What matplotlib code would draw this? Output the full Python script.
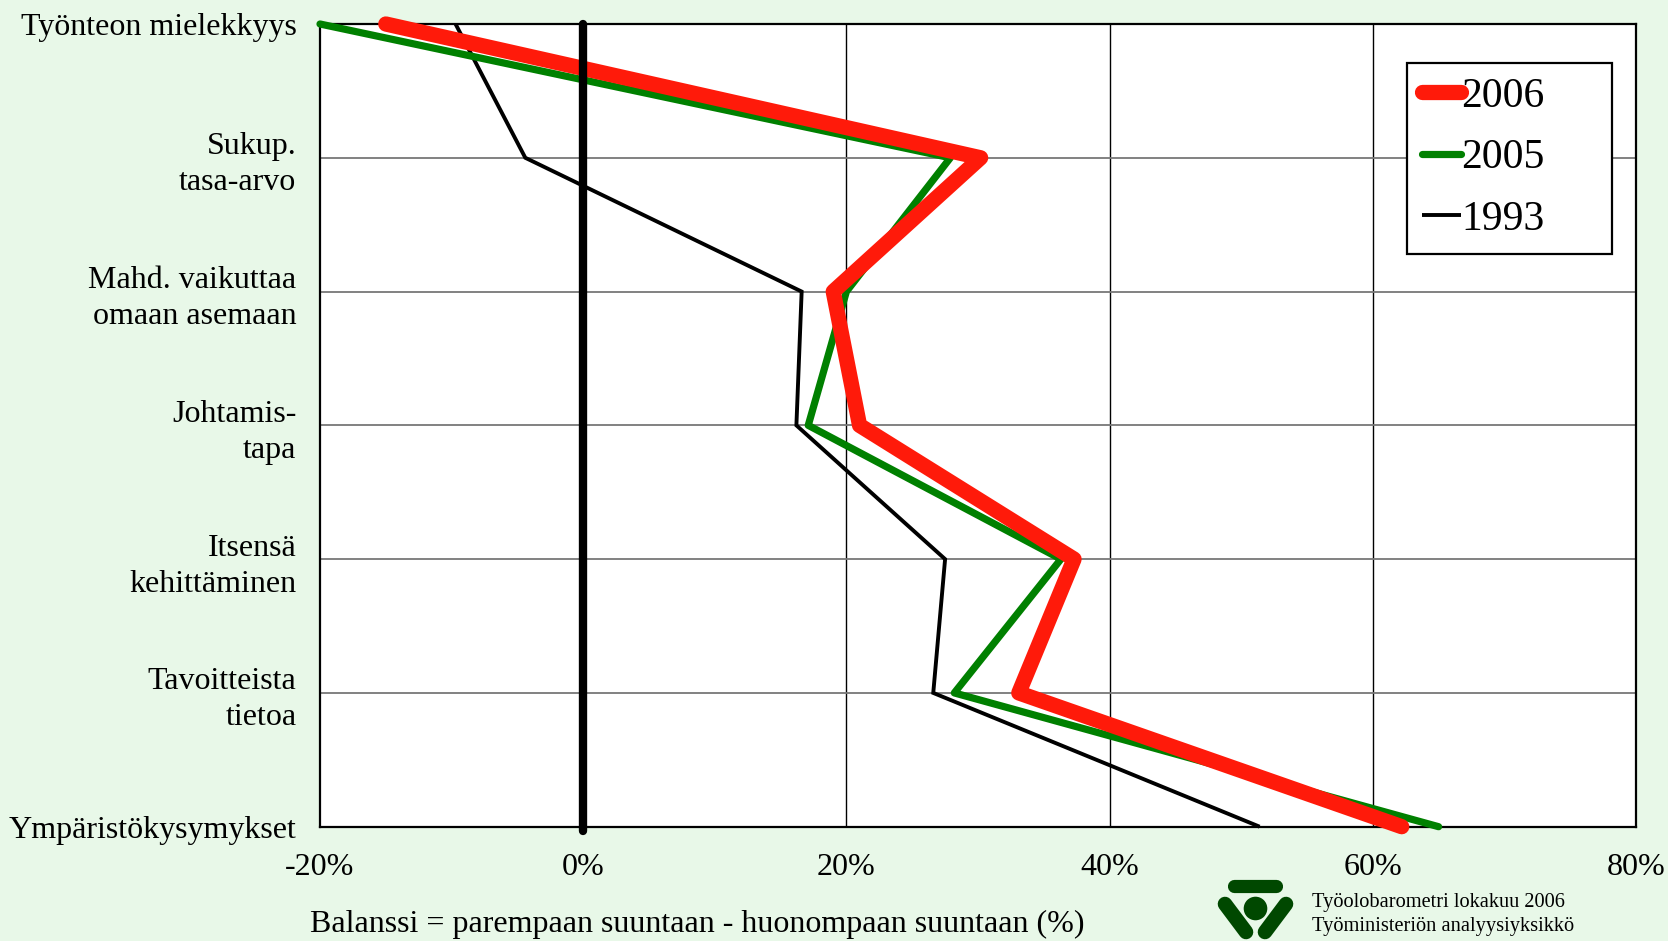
import matplotlib
matplotlib.use("Agg")
import matplotlib.pyplot as plt
from matplotlib.lines import Line2D

plt.rcParams['font.family'] = ['Liberation Serif', 'DejaVu Serif']

categories = ["Työnteon mielekkyys", "Sukup.\ntasa-arvo", "Mahd. vaikuttaa\nomaan asemaan",
              "Johtamis-\ntapa", "Itsensä\nkehittäminen", "Tavoitteista\ntietoa",
              "Ympäristökysymykset"]
values_2006 = [-15.0, 30.2, 19.0, 21.0, 37.3, 33.1, 62.2]
values_2005 = [-20.0, 27.9, 20.0, 17.1, 36.3, 28.2, 65.0]
values_1993 = [-9.7, -4.4, 16.6, 16.2, 27.5, 26.6, 51.4]
xticks = [-20, 0, 20, 40, 60, 80]
xtick_labels = ["-20%", "0%", "20%", "40%", "60%", "80%"]

bg = '#e8f8e8'
fig = plt.figure(figsize=(16.68, 9.41), dpi=100, facecolor=bg)
ax = fig.add_axes([320/1668, 1-826.7/941, (1636-320)/1668, (826.7-24)/941])
ax.set_facecolor('white')

ypos = list(range(len(categories)))

ax.set_xlim(-20, 80)
ax.set_ylim(len(categories)-1, 0)

# grid
for x in [20, 40, 60]:
    ax.axvline(x, color='black', lw=1.0, zorder=1)
for y in ypos[1:-1]:
    ax.axhline(y, color='#777777', lw=1.3, zorder=1)

ax.plot(values_1993, ypos, color='black', lw=2.8, solid_capstyle='butt',
        solid_joinstyle='miter', clip_on=False, zorder=3, label='1993')
ax.plot(values_2005, ypos, color='#008000', lw=5.2, solid_capstyle='round',
        solid_joinstyle='round', clip_on=False, zorder=4, label='2005')
ax.plot(values_2006, ypos, color='#ff1a0a', lw=11, solid_capstyle='round',
        solid_joinstyle='round', clip_on=False, zorder=5, label='2006')

ax.plot([0, 0], [0, len(categories)-1+0.03], color='black', lw=6, solid_capstyle='round',
        clip_on=False, zorder=6)

for s in ax.spines.values():
    s.set_linewidth(1.6)
    s.set_color('black')

ax.set_xticks(xticks)
ax.set_xticklabels(xtick_labels, fontsize=23)
ax.set_yticks(ypos)
ax.set_yticklabels(categories, fontsize=23, linespacing=1.32, multialignment='right')
ax.tick_params(axis='x', length=0, pad=19)
ax.tick_params(axis='y', length=0, pad=17)

handles, labels = ax.get_legend_handles_labels()
order = [2, 1, 0]
leg = ax.legend([handles[i] for i in order], [labels[i] for i in order],
                loc='upper left', bbox_to_anchor=(1407/1668, 1-247/941, 205/1668, 184/941),
                bbox_transform=fig.transFigure, mode='expand',
                fontsize=30, handlelength=0.95, handletextpad=0.0, labelspacing=0.55,
                borderpad=0.35, borderaxespad=0, fancybox=False, framealpha=1,
                edgecolor='black')
leg.get_frame().set_linewidth(1.6)
leg.set_zorder(10)

fig.text(697/1668, 1-924/941, "Balanssi = parempaan suuntaan - huonompaan suuntaan (%)",
         ha='center', va='center', fontsize=23)

fig.text(1312/1668, 1-903/941, "Työolobarometri lokakuu 2006", ha='left', va='center', fontsize=14.7)
fig.text(1312/1668, 1-926/941, "Työministeriön analyysiyksikkö", ha='left', va='center', fontsize=14.7)

# logo
lg = '#004800'
def px(x, y):
    return x/1668, 1-y/941
for (x0, y0), (x1, y1), w in [((1234, 885.5), (1276, 885.5), 9.5),
                               ((1225, 904), (1246, 932), 10.5),
                               ((1286, 904), (1265, 932), 10.5)]:
    a, b = px(x0, y0)
    c, d = px(x1, y1)
    fig.add_artist(Line2D([a, c], [b, d], color=lg, lw=w, solid_capstyle='round'))
cx, cy = px(1255, 908)
fig.add_artist(Line2D([cx], [cy], marker='o', markersize=17, color=lg, markeredgewidth=0))

fig.savefig('out.png', dpi=100, facecolor=bg)
